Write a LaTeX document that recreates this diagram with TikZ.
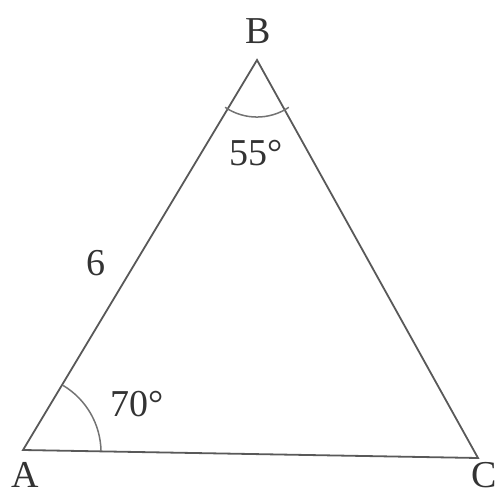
\documentclass[tikz,border=0pt]{standalone}
\usepackage{fontspec}
\setmainfont{Liberation Serif}
\begin{document}
\begin{tikzpicture}[x=1pt,y=-1pt,
  edge/.style={draw=black!65,line width=1.8pt},
  arcline/.style={draw=black!55,line width=1.5pt},
  lbl/.style={text=black!80,font=\fontsize{38}{40}\selectfont,inner sep=0pt},
  caplbl/.style={lbl,text height=0.67em,text depth=0pt}]
\useasboundingbox (0,0) rectangle (504,498);
\coordinate (A) at (23,450);
\coordinate (B) at (257,60);
\coordinate (C) at (478,458);
\draw[edge] (A) -- (B) -- (C) -- cycle;
% angle arcs
\draw[arcline] (101,451) arc[start angle=-1, end angle=-59, radius=78];
\draw[arcline] (225.1,107.3) arc[start angle=124, end angle=56, radius=57];
\node[lbl] (lB) at (258,31) {B};
\node[caplbl] (lA) at (25,484) {A};
\node[caplbl] (lC) at (484,484) {C};
\node[lbl] (l6) at (96,263) {6};
\node[lbl] (l70) at (137,404) {70°};
\node[lbl] (l55) at (256,153) {55°};
\end{tikzpicture}
\end{document}
